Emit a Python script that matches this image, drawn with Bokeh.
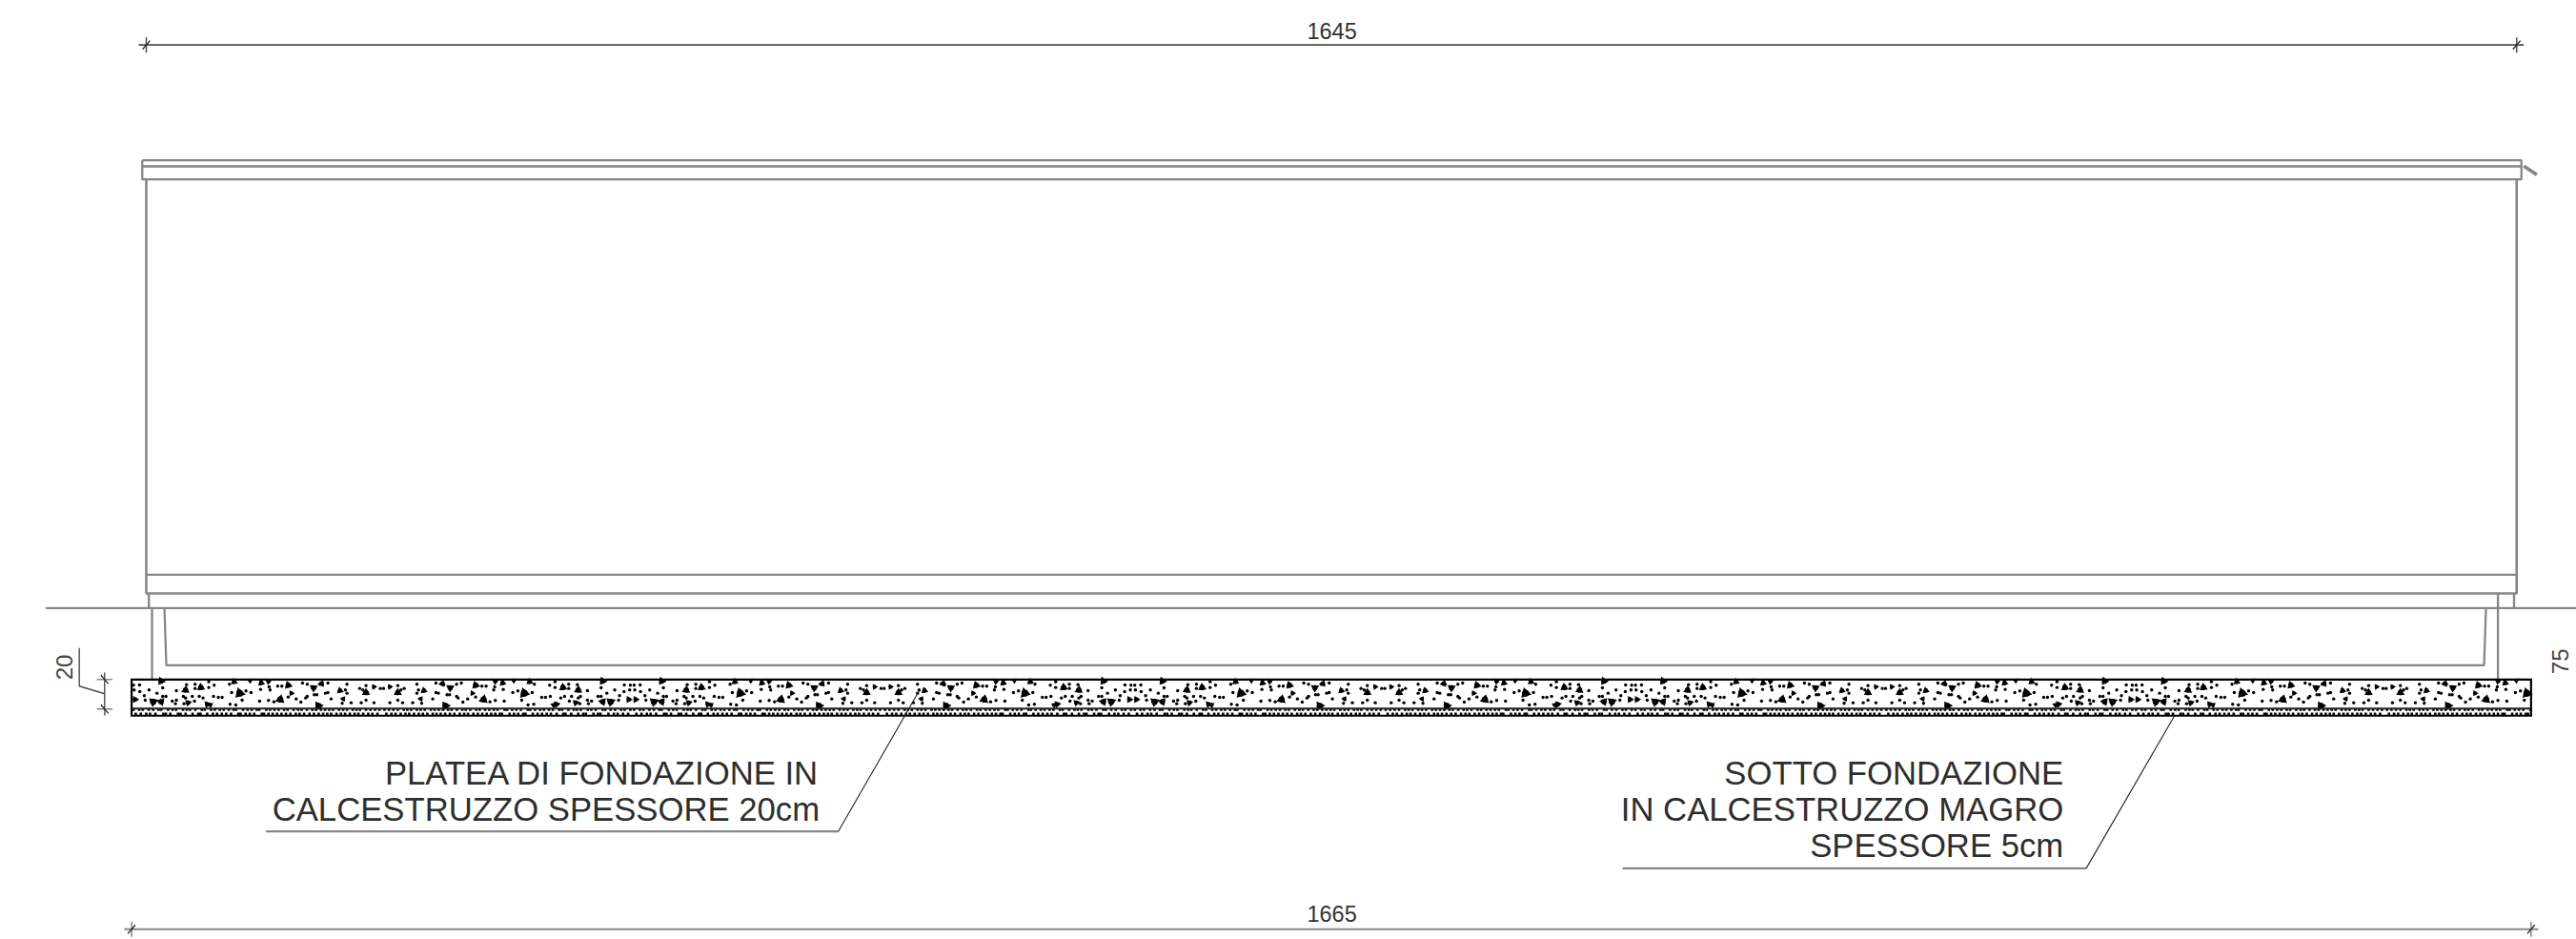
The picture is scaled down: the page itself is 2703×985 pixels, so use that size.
import numpy as np
from bokeh.plotting import figure
from bokeh.core.properties import value
from bokeh.embed import file_html
from bokeh.resources import INLINE

# ---- section geometry, in centimetres: x from the left wall face, y from ground level
WALL_LEFT, WALL_RIGHT = 0, 1645
SLAB_LEFT, SLAB_RIGHT = -10.2, 1655
GROUND_X = [-69.9, 1690]
ROOF_X = [-2.8, 1648.3]
ROOF_Y = [310.6, 306.4, 297.4]
BASE_Y = [23.1, 10.1]
CURB_LEFT_X = [1.8, 1.8]
CURB_RIGHT_X = [1643.2, 1643.2]
POST_LEFT_X = [4, 4]
POST_RIGHT_X = [1632, 1632]
CAVITY_X = [12.6, 13.9, 1622.4, 1623.7]
CAVITY_Y = [0, -39.7, -39.7, 0]
SLAB_Y = [-49.6, -69.7, -74.7]
DRIP_X = [1650, 1659]
DRIP_Y = [306.6, 300.6]

# ---- dimensions
DIM_TOP_LABEL, DIM_TOP_Y, DIM_TOP_EXT = "1645", 390.6, [-5.3, 1650]
DIM_BOT_LABEL, DIM_BOT_Y, DIM_BOT_EXT = "1665", -222.9, [-15.2, 1660]
DIM20_X, DIM20_Y, DIM20_EXT = -28.9, [-49.6, -70.1], [-44.8, -74.5]
DIM20_LEADER_X = [-28.9, -46.5, -46.5]
DIM20_LEADER_Y = [-59.5, -54.2, -27.8]

# ---- callouts
LEFT_NOTE = ["PLATEA DI FONDAZIONE IN", "CALCESTRUZZO SPESSORE 20cm"]
RIGHT_NOTE = ["SOTTO FONDAZIONE", "IN CALCESTRUZZO MAGRO", "SPESSORE 5cm"]
NOTE_BASELINES = [-122, -147.3, -172.6]
LEFT_SHELF_X, LEFT_SHELF_Y = [83.1, 480.2], [-155, -155]
LEFT_POINTER_X, LEFT_POINTER_Y = [480.2, 536.4], [-155, -57.4]
RIGHT_SHELF_X, RIGHT_SHELF_Y = [1024.5, 1346.3], [-180.6, -180.6]
RIGHT_POINTER_X, RIGHT_POINTER_Y = [1346.3, 1407.4], [-180.6, -75]

# ---- concrete aggregate read from one stretch of the slab (units of 1/4.536 cm, slab corner at 412,367)
FINE_X = [655, 950, 965, 1030, 1090, 1150, 418, 437, 420, 467, 510, 492, 452, 438, 455, 520, 510, 585, 612, 612, 672, 655,
          553, 575, 582, 603, 625, 637, 610, 540, 553, 550, 577, 670, 685, 697, 720, 727, 772, 788, 818, 845, 848, 860,
          843, 815, 760, 722, 740, 872, 885, 905, 930, 945, 987, 995, 1005, 1022, 1030, 965, 960, 1090, 1085, 1103, 1130,
          1140, 1135, 1175, 1150, 1040, 1195, 1075]
FINE_Y = [374, 378, 382, 378, 382, 386, 385, 384, 400, 400, 393, 410, 418, 405, 432, 420, 420, 383, 382, 395, 385, 392,
          402, 420, 425, 420, 420, 425, 435, 435, 432, 443, 443, 420, 423, 423, 382, 408, 403, 408, 398, 390, 400, 437,
          433, 435, 432, 445, 447, 388, 388, 422, 428, 438, 415, 415, 382, 410, 408, 420, 425, 410, 400, 440, 395,
          400, 440, 440, 432, 428, 395, 442]
COARSE_X = [505, 735, 785, 820, 843, 1010, 1175, 423, 480, 505, 630, 582, 590, 650, 660, 752, 880, 905, 915, 985, 1000, 1068, 1078, 1150]
COARSE_Y = [372, 374, 370, 378, 372, 380, 390, 430, 437, 437, 392, 400, 440, 445, 447, 410, 430, 385, 410, 393, 450, 402, 428, 408]
COARSE_SIZE = [7, 6, 5, 6, 6, 6, 5, 6, 8, 7, 7, 7, 6, 6, 5, 9, 8, 7, 5, 7, 8, 6, 5, 7]
COARSE_TURN = [0.4, 2.2, 1.1, 0.2, 3.0, 1.7, 0.6, 2.6, 0.9, 1.4, 0.1, 2.0, 2.9, 0.7, 1.2, 0.3, 1.9, 2.4, 0.5, 1.0, 2.7, 0.2, 1.5, 2.1]
# lower layer marks, read along the same stretch
BAND_UPPER_X = [418, 436, 447, 466, 480, 497, 505, 527, 541, 552, 574, 586, 596, 613, 633, 642, 662, 674, 690, 702, 718,
                733, 741, 763, 777, 790, 806, 814, 836, 848, 862, 875, 892, 903, 922, 936, 947, 964, 981, 992, 1008, 1021,
                1034, 1046, 1065, 1078, 1090, 1108, 1120, 1131, 1150, 1164, 1178, 1192]
BAND_LOWER_X = [425, 441, 458, 470, 487, 512, 520, 534, 558, 566, 582, 604, 622, 629, 650, 668, 681, 696, 710, 725, 748,
                755, 771, 784, 798, 822, 829, 843, 856, 870, 884, 898, 912, 929, 941, 955, 972, 986, 1001, 1015, 1028,
                1040, 1057, 1071, 1084, 1099, 1114, 1126, 1141, 1157, 1170, 1186]
MOTIF_ORIGIN_X, MOTIF_ORIGIN_Y, MOTIF_UNIT, MOTIF_SPAN = 412, 367, 4.536, 788

PX_PER_CM = 1.512
W, H = 2703, 985
X0 = (0 - 153) / PX_PER_CM
Y0 = (637.3 - 0) / PX_PER_CM

p = figure(width=W, height=H, output_backend="svg", toolbar_location=None,
           x_range=(X0, X0 + W / PX_PER_CM), y_range=(Y0 - H / PX_PER_CM, Y0),
           x_axis_type=None, y_axis_type=None, min_border=0, outline_line_color=None)
p.grid.visible = False
p.background_fill_color = "white"
p.border_fill_color = "white"

GRAY = "#868686"
DARK = "#4d4d4d"
FONT = value("Liberation Sans")


def seg(xs, ys, color=GRAY, w=2.3):
    p.line(xs, ys, line_color=color, line_width=w)


# roof
p.line([ROOF_X[0], ROOF_X[1], ROOF_X[1], ROOF_X[0], ROOF_X[0]],
       [ROOF_Y[0], ROOF_Y[0], ROOF_Y[2], ROOF_Y[2], ROOF_Y[0]], line_color=GRAY, line_width=2.3)
seg(ROOF_X, [ROOF_Y[1], ROOF_Y[1]])
seg(DRIP_X, DRIP_Y, w=3.8)
# wall
seg([WALL_LEFT, WALL_LEFT, WALL_RIGHT, WALL_RIGHT], [ROOF_Y[2], BASE_Y[1], BASE_Y[1], ROOF_Y[2]], w=2.6)
seg([WALL_LEFT, WALL_RIGHT], [BASE_Y[0], BASE_Y[0]], w=2.4)
# below base
seg(CURB_LEFT_X, [BASE_Y[1], 0])
seg(CURB_RIGHT_X, [BASE_Y[1], 0])
seg(GROUND_X, [0, 0])
seg(POST_LEFT_X, [0, SLAB_Y[0]])
seg(POST_RIGHT_X, [BASE_Y[1], SLAB_Y[0]])
seg(CAVITY_X, CAVITY_Y)

# aggregate
reps = int(np.ceil((SLAB_RIGHT - SLAB_LEFT) * MOTIF_UNIT / MOTIF_SPAN))


def tile(raw_x, raw_y):
    xs, ys, idx = [], [], []
    raw_x = np.array(raw_x, float) - MOTIF_ORIGIN_X
    raw_y = np.array(raw_y, float) - MOTIF_ORIGIN_Y
    for r in range(reps):
        # every other stretch is mirrored so the seam and repeat do not show
        local = raw_x if r % 2 == 0 else MOTIF_SPAN - raw_x
        xs.append(SLAB_LEFT + (local + r * MOTIF_SPAN) / MOTIF_UNIT)
        ys.append(SLAB_Y[0] - raw_y / MOTIF_UNIT)
        idx.append(np.arange(len(raw_x)))
    xs, ys, idx = map(np.concatenate, (xs, ys, idx))
    keep = xs < SLAB_RIGHT - 0.5
    return xs[keep], ys[keep], idx[keep]


fx, fy, _ = tile(FINE_X, FINE_Y)
p.scatter(fx, fy, size=3.4, marker="circle", fill_color="black", line_color=None)
cx, cy, ci = tile(COARSE_X, COARSE_Y)
p.scatter(cx, cy, size=np.array(COARSE_SIZE)[ci] * 1.25, angle=np.array(COARSE_TURN)[ci], marker="triangle",
          fill_color="black", line_color=None)
p.scatter(cx, cy, size=np.array(COARSE_SIZE)[ci] * 0.8, marker="circle", fill_color="black", line_color=None)
bx, by, _ = tile(BAND_UPPER_X, [462] * len(BAND_UPPER_X))
p.scatter(bx, by, size=2.6, marker="square", fill_color="black", line_color=None)
bx, by, _ = tile(BAND_LOWER_X, [475] * len(BAND_LOWER_X))
p.scatter(bx, by, size=2.6, marker="square", fill_color="black", line_color=None)

# slab outline and layer line
p.quad(left=[SLAB_LEFT], right=[SLAB_RIGHT], top=[SLAB_Y[0]], bottom=[SLAB_Y[2]],
       fill_color=None, line_color="black", line_width=2.2, line_join="miter")
seg([SLAB_LEFT, SLAB_RIGHT], [SLAB_Y[1], SLAB_Y[1]], color="#222222", w=2)

# dimension lines
def tick(x, y, color):
    seg([x, x], [y - 5.3, y + 5.3], color=color, w=1.5)
    seg([x - 2.6, x + 2.6], [y - 3, y + 3], color="#222222", w=1.3)


seg(DIM_TOP_EXT, [DIM_TOP_Y, DIM_TOP_Y], color=DARK, w=1.8)
tick(WALL_LEFT, DIM_TOP_Y, DARK)
tick(WALL_RIGHT, DIM_TOP_Y, DARK)
seg(DIM_BOT_EXT, [DIM_BOT_Y, DIM_BOT_Y], w=2)
tick(SLAB_LEFT, DIM_BOT_Y, GRAY)
tick(SLAB_RIGHT, DIM_BOT_Y, GRAY)
seg([DIM20_X, DIM20_X], DIM20_EXT, color=DARK, w=1.4)
for y in DIM20_Y:
    seg([DIM20_X - 5.4, DIM20_X + 5.4], [y, y], color=GRAY, w=1.5)
    seg([DIM20_X - 2.6, DIM20_X + 2.6], [y + 3, y - 3], color="#222222", w=1.2)
seg(DIM20_LEADER_X, DIM20_LEADER_Y, color=DARK, w=1.4)

dim_size = value("23.5px")
DIM_SHIFT = -7.8
p.text([822.8], [DIM_TOP_Y + 4.9], y_offset=DIM_SHIFT, text=[DIM_TOP_LABEL], text_font=FONT, text_font_size=dim_size,
       text_align="center", text_baseline="alphabetic", text_color="#333333")
p.text([822.8], [DIM_BOT_Y + 5.5], y_offset=DIM_SHIFT, text=[DIM_BOT_LABEL], text_font=FONT, text_font_size=dim_size,
       text_align="center", text_baseline="alphabetic", text_color="#333333")
p.text([-51.6], [-49.9], x_offset=-8, text=["20"], angle=[np.pi / 2], text_font=FONT, text_font_size=value("24px"),
       text_align="left", text_baseline="alphabetic", text_color="#444444")
p.text([1680.5], [-45.9], x_offset=-8, text=["75"], angle=[np.pi / 2], text_font=FONT, text_font_size=value("24px"),
       text_align="left", text_baseline="alphabetic", text_color="#444444")

# callouts
note_size = value("34.7px")
NOTE_SHIFT = -11.4
p.text([467.3] * 2, NOTE_BASELINES[:2], y_offset=NOTE_SHIFT, text=LEFT_NOTE, text_font=FONT, text_font_size=note_size,
       text_align="right", text_baseline="alphabetic", text_color="#2e2e2e")
p.text([1330.5] * 3, NOTE_BASELINES, y_offset=NOTE_SHIFT, text=RIGHT_NOTE, text_font=FONT, text_font_size=note_size,
       text_align="right", text_baseline="alphabetic", text_color="#2e2e2e")
seg(LEFT_SHELF_X, LEFT_SHELF_Y)
seg(LEFT_POINTER_X, LEFT_POINTER_Y, color="#222222", w=1.1)
seg(RIGHT_SHELF_X, RIGHT_SHELF_Y)
seg(RIGHT_POINTER_X, RIGHT_POINTER_Y, color="#222222", w=1.1)

open("out.html", "w").write(file_html(p, INLINE))
